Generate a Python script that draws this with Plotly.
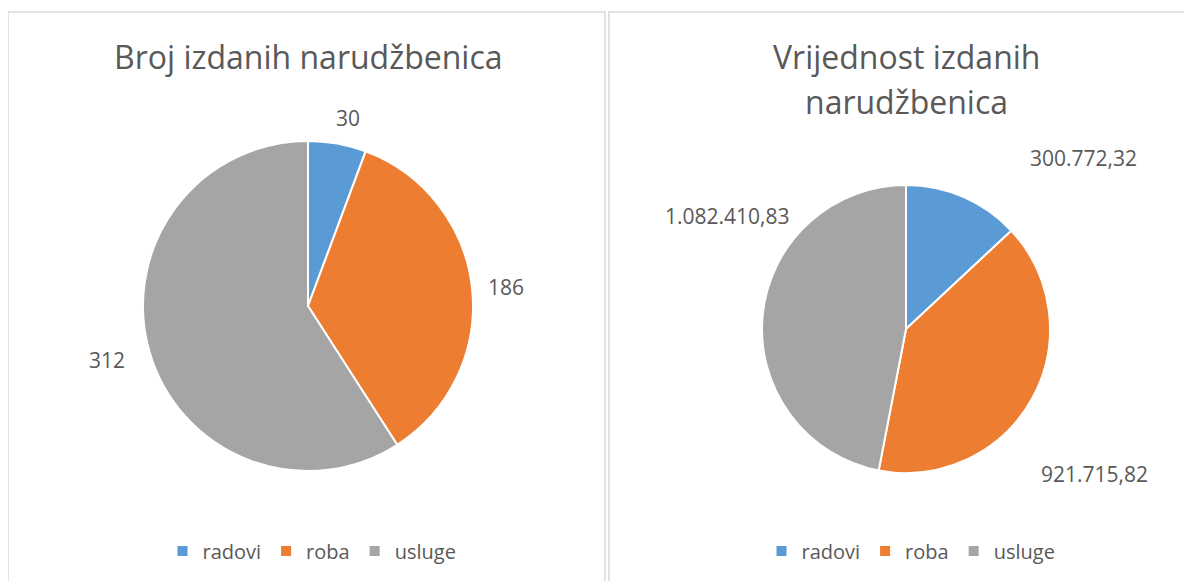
import math
import plotly.graph_objects as go

categories = ["radovi", "roba", "usluge"]
count_values = [30, 186, 312]
amount_values = [300772.32, 921715.82, 1082410.83]
colors = ["#5B9BD5", "#ED7D31", "#A5A5A5"]
title_left = "Broj izdanih narudžbenica"
title_right_lines = ["Vrijednost izdanih", "narudžbenica"]

W, H = 1192, 581
OFF = 8  # page body margin in the screenshot
FONT = "Open Sans, Noto Sans, sans-serif"
TXT = "#595959"

# label placement style (radius factor, angle shift in degrees) relative to slice mid-angle
left_label_style = [(1.165, 1.8), (1.205, 0.6), (1.26, 1.3)]
right_label_style = [(1.71, 22.5), (1.65, 8.7), (1.47, 26.8)]

def px(x):
    return (x - OFF) / W

def py(y):
    return 1 - (y - OFF) / H

def fmt_eu(v):
    s = f"{v:,.2f}"
    return s.replace(",", "X").replace(".", ",").replace("X", ".")

left_box = (143, 141, 473, 471)   # pixel box of pie 1 (x0, y0, x1, y1)
right_box = (762, 185, 1050, 473)  # pixel box of pie 2

fig = go.Figure()

def add_pie(values, box):
    x0, y0, x1, y1 = box
    fig.add_trace(go.Pie(
        labels=categories, values=values, sort=False, direction="clockwise",
        rotation=0, marker=dict(colors=colors, line=dict(color="white", width=2)),
        textinfo="none", showlegend=False,
        domain=dict(x=[px(x0), px(x1)], y=[py(y1), py(y0)]),
        hoverinfo="label+value",
    ))

add_pie(count_values, left_box)
add_pie(amount_values, right_box)

# legend entries for each panel
for lg in ["legend", "legend2"]:
    for cat, col in zip(categories, colors):
        fig.add_trace(go.Scatter(
            x=[None], y=[None], mode="markers", name=cat, legend=lg,
            marker=dict(symbol="square", size=10, color=col),
            legendgroup=cat, showlegend=True, hoverinfo="skip",
        ))

annotations = []

def label_annotations(values, box, texts, style):
    x0, y0, x1, y1 = box
    cx, cy = (x0 + x1) / 2, (y0 + y1) / 2
    r = min(x1 - x0, y1 - y0) / 2
    total = sum(values)
    cum = 0
    for v, t, (fac, shift) in zip(values, texts, style):
        mid = (cum + v / 2) / total * 360 + shift
        cum += v
        th = math.radians(mid)
        lx = cx + fac * r * math.sin(th)
        ly = cy - fac * r * math.cos(th)
        annotations.append(dict(
            text=t, x=px(lx), y=py(ly), xref="paper", yref="paper", showarrow=False,
            xanchor="center", yanchor="middle", font=dict(size=21, color=TXT, family=FONT)))

label_annotations(count_values, left_box, [str(v) for v in count_values], left_label_style)
label_annotations(amount_values, right_box, [fmt_eu(v) for v in amount_values], right_label_style)

annotations.append(dict(text=title_left, x=px(308), y=py(57), xref="paper", yref="paper",
                        showarrow=False, xanchor="center", yanchor="middle",
                        font=dict(size=32, color=TXT, family=FONT)))
for i, line in enumerate(title_right_lines):
    annotations.append(dict(text=line, x=px(906), y=py(57 + 45 * i), xref="paper", yref="paper",
                            showarrow=False, xanchor="center", yanchor="middle",
                            font=dict(size=32, color=TXT, family=FONT)))

leg_common = dict(orientation="h", xanchor="center", yanchor="middle",
                  font=dict(size=20, color=TXT, family=FONT), bgcolor="rgba(0,0,0,0)",
                  itemclick=False, itemdoubleclick=False)

fig.update_layout(
    width=W, height=H,
    margin=dict(l=0, r=0, t=0, b=0),
    paper_bgcolor="white", plot_bgcolor="rgba(0,0,0,0)",
    font=dict(family=FONT, color=TXT),
    xaxis=dict(visible=False), yaxis=dict(visible=False),
    legend=dict(x=px(312), y=py(551), **leg_common),
    legend2=dict(x=px(911), y=py(551), **leg_common),
    shapes=[
        dict(type="rect", xref="paper", yref="paper", x0=px(8), x1=px(605), y0=py(620), y1=py(12),
             line=dict(color="#D9D9D9", width=1.5), fillcolor="rgba(0,0,0,0)", layer="below"),
        dict(type="rect", xref="paper", yref="paper", x0=px(609), x1=px(1230), y0=py(620), y1=py(12),
             line=dict(color="#D9D9D9", width=1.5), fillcolor="rgba(0,0,0,0)", layer="below"),
    ],
    annotations=annotations,
)

fig.write_html("out.html")
